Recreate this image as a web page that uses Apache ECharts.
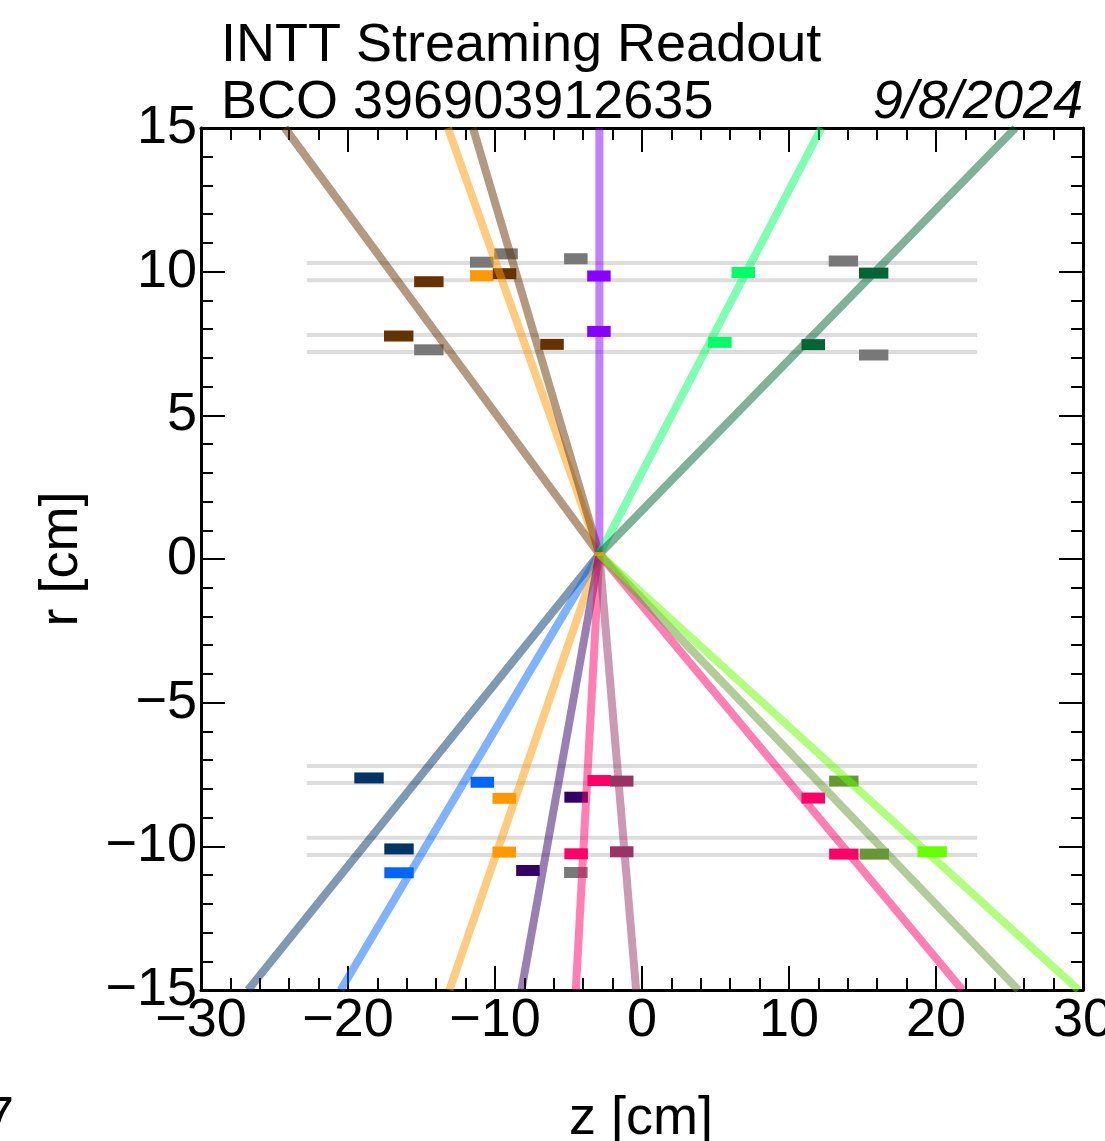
<!DOCTYPE html>
<html>
<head>
<meta charset="utf-8">
<script src="https://cdn.jsdelivr.net/npm/echarts@6/dist/echarts.min.js"></script>
<style>
  html, body { margin: 0; padding: 0; background: #ffffff; overflow: hidden; width: 1105px; height: 1141px; }
  #chart { width: 1105px; height: 1141px; position: absolute; left: 0; top: 0; }
</style>
</head>
<body>
<div id="chart"></div>
<script>
// ---------------- DATA ----------------
const titleLine1 = 'INTT Streaming Readout';
const titleLine2 = 'BCO 396903912635';
const dateText = '9/8/2024';
const xAxisTitle = 'z [cm]';
const yAxisTitle = 'r [cm]';

const xRange = [-30, 30];
const yRange = [-15, 15];

// common vertex of all tracks (z, r) in cm
const vertexZ = -2.9;
const vertexR = 0.17;

// tracks: end point (z at r = +-15 cm)
const trackEndZ = [-24.3, -13.2, -11.5, -2.9, 12.2, 25.4,
                   -26.8, -20.5, -13.1, -8.2, -4.5, -0.4, 21.8, 25.6, 29.7];
const trackEndR = [15, 15, 15, 15, 15, 15,
                   -15, -15, -15, -15, -15, -15, -15, -15, -15];

// INTT ladder layers (radius, cm) and half length in z (cm)
const ladderR = [10.3, 9.7, 7.8, 7.2, -7.2, -7.8, -9.7, -10.3];
const ladderHalfZ = 22.8;

// hits: z, r, associated track (-1 = none), sensor type
const hitZ = [-14.5, -10.9, -9.25, -10.9, -9.35, -4.5, -2.93, -2.93, -16.55, -14.5, -6.12,
              6.89, 13.7, 15.76, 5.3, 11.65, 15.76,
              -18.57, -10.86, -9.37, -4.48, -2.91, -1.38, -16.53, -16.53, -9.37, -7.76, -4.48, -4.5, -1.38,
              13.73, 11.65, 13.73, 15.8, 19.74];
const hitR = [9.65, 10.33, 10.62, 9.86, 9.93, 10.45, 9.85, 7.92, 7.76, 7.28, 7.47,
              9.97, 10.37, 9.95, 7.54, 7.46, 7.1,
              -7.62, -7.77, -8.33, -8.29, -7.71, -7.73, -10.09, -10.92, -10.2, -10.84, -10.26, -10.91, -10.19,
              -7.73, -8.32, -10.27, -10.27, -10.19];
const hitTrack = [0, -1, -1, 1, 2, -1, 3, 3, 0, -1, 2,
                  4, -1, 5, 4, 5, -1,
                  6, 7, 8, 9, 10, 11, 6, 7, 8, 9, 10, -1, 11,
                  13, 12, 12, 13, 14];
const hitSensor = ['B', 'A', 'A', 'A', 'A', 'A', 'A', 'A', 'B', 'B', 'A',
                   'A', 'B', 'B', 'A', 'A', 'B',
                   'B', 'A', 'A', 'A', 'A', 'A', 'B', 'B', 'A', 'A', 'A', 'A', 'A',
                   'B', 'A', 'B', 'B', 'B'];
const sensorLength = { A: 1.6, B: 2.0 }; // strip length along z, cm

// ---------------- STYLE ----------------
const FONT = "'Liberation Sans', Arial, Helvetica, sans-serif";
const trackColors = ['#663300', '#ff9900', '#663300', '#8800ff', '#00ff66', '#006633',
                     '#003366', '#0066ff', '#ff9900', '#330066', '#ff0066', '#993366',
                     '#ff0066', '#669933', '#66ff00'];
const unassocColor = '#787878';
const ladderColor = '#dddddd';

const chart = echarts.init(document.getElementById('chart'), null, { renderer: 'canvas', width: 1105, height: 1141 });

const minus = v => String(v).replace('-', '\u2212');

const series = [];

ladderR.forEach(r => {
  series.push({
    type: 'line', xAxisIndex: 0, yAxisIndex: 0, silent: true, symbol: 'none',
    data: [[-ladderHalfZ, r], [ladderHalfZ, r]],
    lineStyle: { color: ladderColor, width: 4 }, z: 1
  });
});

const hitData = hitZ.map((z, i) => [z, hitR[i], sensorLength[hitSensor[i]], hitTrack[i]]);
series.push({
  type: 'custom', xAxisIndex: 0, yAxisIndex: 0, silent: true, z: 2,
  data: hitData,
  renderItem: function (params, api) {
    const c = api.coord([api.value(0), api.value(1)]);
    const w = api.size([api.value(2), 0])[0];
    const ti = api.value(3);
    const h = 11;
    return {
      type: 'rect',
      shape: { x: c[0] - w / 2, y: c[1] - h / 2, width: w, height: h },
      style: { fill: ti >= 0 ? trackColors[ti] : unassocColor }
    };
  }
});

trackEndZ.forEach((ez, i) => {
  series.push({
    type: 'line', xAxisIndex: 0, yAxisIndex: 0, silent: true, symbol: 'none', clip: true,
    data: [[vertexZ, vertexR], [ez, trackEndR[i]]],
    lineStyle: { color: trackColors[i], width: 8, opacity: 0.5 }, z: 3
  });
});

series.push({
  type: 'scatter', xAxisIndex: 0, yAxisIndex: 0, silent: true, z: 4,
  symbol: 'rect', symbolSize: [10, 4],
  itemStyle: { color: '#f0a000' },
  data: [[vertexZ, vertexR]]
});

const axisLineStyle = { color: '#000', width: 3 };
const tickStyle = { color: '#000', width: 2 };

const option = {
  animation: false,
  backgroundColor: '#ffffff',
  grid: { left: 201, top: 128, width: 882, height: 862, show: false, containLabel: false,
          outerBoundsMode: 'none' },
  xAxis: [
    {
      type: 'value', position: 'bottom', min: xRange[0], max: xRange[1], interval: 10,
      axisLine: { show: true, onZero: false, lineStyle: axisLineStyle },
      axisTick: { show: true, inside: true, length: 24, lineStyle: tickStyle },
      minorTick: { show: true, splitNumber: 5, length: 12, lineStyle: tickStyle },
      splitLine: { show: false },
      axisLabel: { show: true, margin: 4, color: '#000', fontSize: 54, fontFamily: FONT,
                   formatter: v => minus(v), showMinLabel: true, showMaxLabel: true, hideOverlap: false }
    },
    {
      type: 'value', position: 'top', min: xRange[0], max: xRange[1], interval: 10,
      axisLine: { show: true, onZero: false, lineStyle: axisLineStyle },
      axisTick: { show: true, inside: true, length: 24, lineStyle: tickStyle },
      minorTick: { show: true, splitNumber: 5, length: 12, lineStyle: tickStyle },
      splitLine: { show: false },
      axisLabel: { show: false }
    }
  ],
  yAxis: [
    {
      type: 'value', position: 'left', min: yRange[0], max: yRange[1], interval: 5,
      axisLine: { show: true, onZero: false, lineStyle: axisLineStyle },
      axisTick: { show: true, inside: true, length: 24, lineStyle: tickStyle },
      minorTick: { show: true, splitNumber: 5, length: 12, lineStyle: tickStyle },
      splitLine: { show: false },
      axisLabel: { show: true, margin: 4, color: '#000', fontSize: 54, fontFamily: FONT,
                   formatter: v => minus(v), showMinLabel: true, showMaxLabel: true, hideOverlap: false }
    },
    {
      type: 'value', position: 'right', min: yRange[0], max: yRange[1], interval: 5,
      axisLine: { show: true, onZero: false, lineStyle: axisLineStyle },
      axisTick: { show: true, inside: true, length: 24, lineStyle: tickStyle },
      minorTick: { show: true, splitNumber: 5, length: 12, lineStyle: tickStyle },
      splitLine: { show: false },
      axisLabel: { show: false }
    }
  ],
  graphic: [
    { type: 'text', z: 100,
      style: { text: titleLine1, x: 221, y: 46, textAlign: 'left', textVerticalAlign: 'middle',
               fill: '#000', font: '54px ' + FONT } },
    { type: 'text', z: 100,
      style: { text: titleLine2, x: 221, y: 103, textAlign: 'left', textVerticalAlign: 'middle',
               fill: '#000', font: '54px ' + FONT } },
    { type: 'text', z: 100,
      style: { text: dateText, x: 1083, y: 103, textAlign: 'right', textVerticalAlign: 'middle',
               fill: '#000', font: 'italic 54px ' + FONT } },
    { type: 'text', z: 100,
      style: { text: xAxisTitle, x: 641, y: 1119, textAlign: 'center', textVerticalAlign: 'middle',
               fill: '#000', font: '54px ' + FONT } },
    { type: 'text', z: 100, x: 62, y: 559, rotation: Math.PI / 2,
      style: { text: yAxisTitle, x: 0, y: 0, textAlign: 'center', textVerticalAlign: 'middle',
               fill: '#000', font: '54px ' + FONT } },
    { type: 'text', z: 100,
      style: { text: '7', x: 14, y: 1119, textAlign: 'right', textVerticalAlign: 'middle',
               fill: '#000', font: '54px ' + FONT } }
  ],
  series: series
};

chart.setOption(option);
</script>
</body>
</html>
